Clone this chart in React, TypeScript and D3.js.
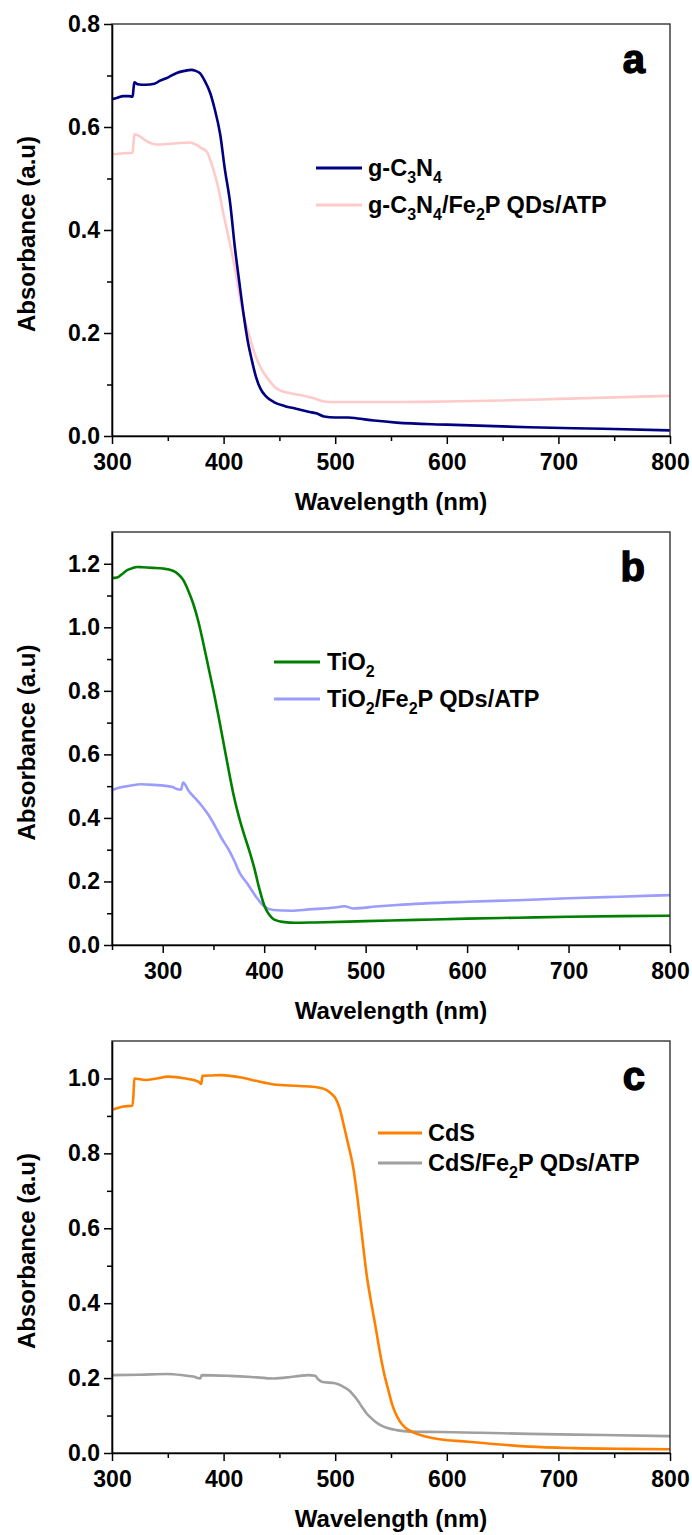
import React, { useEffect, useRef } from "react";
import * as d3 from "d3";

type Pt = [number, number];

// ---------- Panel a ----------
const gC3N4: Pt[] = [
  [300, 0.654], [305, 0.657], [310, 0.66], [315, 0.66], [318.5, 0.659], [319.3, 0.675], [320, 0.687],
  [323, 0.683], [330, 0.682], [338, 0.684], [343, 0.69], [350, 0.696], [358, 0.705], [365, 0.709],
  [371, 0.711], [375, 0.709], [379, 0.704], [383, 0.69], [388, 0.666], [392, 0.635], [397, 0.585],
  [401, 0.52], [406, 0.45], [410, 0.368], [414, 0.3], [418, 0.235], [422, 0.18], [425, 0.15],
  [429, 0.115], [433, 0.092], [438, 0.077], [445, 0.066], [455, 0.058], [465, 0.053], [476, 0.047],
  [483, 0.044], [490, 0.038], [500, 0.036], [512, 0.036], [520, 0.034], [535, 0.03], [555, 0.026],
  [600, 0.022], [674, 0.017], [740, 0.014], [800, 0.011],
];
const gC3N4Comp: Pt[] = [
  [300, 0.547], [310, 0.549], [318.5, 0.55], [319.3, 0.57], [320, 0.586], [325, 0.582], [330, 0.574],
  [340, 0.566], [350, 0.567], [360, 0.569], [370, 0.57], [375, 0.566], [380, 0.559], [385, 0.552],
  [390, 0.523], [395, 0.484], [400, 0.43], [404, 0.39], [407, 0.36], [411, 0.315], [415, 0.265],
  [419, 0.225], [423, 0.195], [426, 0.172], [430, 0.148], [434, 0.13], [440, 0.11], [449, 0.09],
  [460, 0.083], [470, 0.079], [480, 0.074], [488, 0.068], [495, 0.066], [520, 0.066], [560, 0.066],
  [600, 0.067], [650, 0.069], [700, 0.072], [750, 0.075], [800, 0.078],
];

// ---------- Panel b ----------
const tio2: Pt[] = [
  [250, 1.155], [255, 1.157], [260, 1.168], [265, 1.18], [270, 1.186], [275, 1.19], [280, 1.189],
  [290, 1.187], [300, 1.185], [310, 1.178], [315, 1.168], [320, 1.15], [325, 1.117], [330, 1.075],
  [335, 1.02], [340, 0.95], [345, 0.875], [350, 0.8], [355, 0.72], [360, 0.635], [365, 0.55],
  [370, 0.47], [375, 0.405], [380, 0.35], [385, 0.3], [390, 0.245], [395, 0.18], [400, 0.125],
  [405, 0.095], [410, 0.08], [420, 0.072], [430, 0.07], [450, 0.071], [500, 0.075], [550, 0.079],
  [600, 0.083], [650, 0.086], [700, 0.089], [750, 0.091], [800, 0.092],
];
const tio2Comp: Pt[] = [
  [250, 0.488], [260, 0.497], [270, 0.503], [278, 0.506], [291, 0.504], [309, 0.498], [315, 0.49],
  [318, 0.489], [320, 0.511], [326, 0.483], [332, 0.462], [339, 0.436], [345, 0.41], [352, 0.372],
  [358, 0.336], [365, 0.3], [371, 0.262], [376, 0.226], [383, 0.195], [392, 0.152], [400, 0.121],
  [409, 0.11], [427, 0.108], [444, 0.112], [470, 0.118], [479, 0.122], [488, 0.115], [510, 0.121],
  [531, 0.126], [600, 0.136], [650, 0.141], [700, 0.147], [750, 0.152], [800, 0.157],
];

// ---------- Panel c ----------
const cds: Pt[] = [
  [300, 0.916], [305, 0.921], [310, 0.925], [318.3, 0.927], [319.3, 0.96], [320, 1.0], [330, 0.996],
  [340, 1.0], [350, 1.005], [366, 1.0], [377.7, 0.991], [380, 0.985], [381, 1.007], [390, 1.008],
  [397.5, 1.009], [417, 1.002], [430, 0.993], [445, 0.984], [468.5, 0.98], [484.5, 0.976],
  [492.4, 0.969], [497, 0.958], [500.3, 0.947], [504, 0.92], [508, 0.871], [512, 0.82], [516, 0.765],
  [520, 0.68], [524, 0.58], [528, 0.48], [531.8, 0.409], [536, 0.34], [539.7, 0.275], [544, 0.21],
  [547.6, 0.168], [551, 0.13], [555.5, 0.097], [560, 0.076], [563.5, 0.066], [571.4, 0.053],
  [580, 0.045], [595, 0.036], [615, 0.031], [635, 0.026], [674, 0.017], [714, 0.013], [760, 0.011],
  [800, 0.01],
];
const cdsComp: Pt[] = [
  [300, 0.208], [325, 0.209], [349.5, 0.211], [365, 0.207], [373, 0.204], [379, 0.199], [380.4, 0.208],
  [405, 0.206], [425, 0.203], [444.6, 0.199], [460, 0.203], [468, 0.206], [476, 0.208], [482, 0.206],
  [485, 0.196], [488, 0.19], [500, 0.186], [506, 0.179], [512, 0.168], [516, 0.156], [520, 0.141],
  [524, 0.123], [528, 0.106], [532, 0.094], [535.7, 0.084], [541, 0.074], [547.6, 0.066],
  [555, 0.061], [567, 0.057], [595, 0.056], [630, 0.054], [674, 0.051], [740, 0.048], [800, 0.045],
];

// ---------- ticks ----------
const xTicksMajor = [300, 400, 500, 600, 700, 800];
const xTicksMinorA = [350, 450, 550, 650, 750];
const xTicksMinorB = [250, 350, 450, 550, 650, 750];
const yTicksMajorA = [0, 0.2, 0.4, 0.6, 0.8];
const yTicksMinorA = [0.1, 0.3, 0.5, 0.7];
const yTicksMajorB = [0, 0.2, 0.4, 0.6, 0.8, 1.0, 1.2];
const yTicksMinorB = [0.1, 0.3, 0.5, 0.7, 0.9, 1.1];
const yTicksMajorC = [0, 0.2, 0.4, 0.6, 0.8, 1.0];
const yTicksMinorC = [0.1, 0.3, 0.5, 0.7, 0.9];

// legend labels: [text, isSubscript]
const labelG: [string, boolean][] = [["g-C", false], ["3", true], ["N", false], ["4", true]];
const labelGComp: [string, boolean][] = [
  ["g-C", false], ["3", true], ["N", false], ["4", true], ["/Fe", false], ["2", true], ["P QDs/ATP", false],
];
const labelT: [string, boolean][] = [["TiO", false], ["2", true]];
const labelTComp: [string, boolean][] = [
  ["TiO", false], ["2", true], ["/Fe", false], ["2", true], ["P QDs/ATP", false],
];
const labelC: [string, boolean][] = [["CdS", false]];
const labelCComp: [string, boolean][] = [["CdS/Fe", false], ["2", true], ["P QDs/ATP", false]];

const FONT = "'Liberation Sans', Arial, Helvetica, sans-serif";
const X0 = 112;
const X1 = 670;

interface Series { data: Pt[]; color: string; label: [string, boolean][] }
interface Panel {
  top: number; bottom: number; xDomain: [number, number]; yDomain: [number, number];
  xMinor: number[]; yMajor: number[]; yMinor: number[]; letter: string;
  legend: { lx1: number; lx2: number; tx: number; y: number; gap: number };
  series: Series[];
}

const panels: Panel[] = [
  {
    top: 24, bottom: 436, xDomain: [300, 800], yDomain: [0, 0.8], xMinor: xTicksMinorA,
    yMajor: yTicksMajorA, yMinor: yTicksMinorA, letter: "a",
    legend: { lx1: 316, lx2: 362, tx: 368, y: 168, gap: 37 },
    series: [
      { data: gC3N4Comp, color: "#FFCACA", label: labelGComp },
      { data: gC3N4, color: "#000080", label: labelG },
    ],
  },
  {
    top: 532, bottom: 945, xDomain: [250, 800], yDomain: [0, 1.3], xMinor: xTicksMinorB,
    yMajor: yTicksMajorB, yMinor: yTicksMinorB, letter: "b",
    legend: { lx1: 274, lx2: 320, tx: 327, y: 662, gap: 37 },
    series: [
      { data: tio2Comp, color: "#9C9CFF", label: labelTComp },
      { data: tio2, color: "#008000", label: labelT },
    ],
  },
  {
    top: 1041, bottom: 1453, xDomain: [300, 800], yDomain: [0, 1.1], xMinor: xTicksMinorA,
    yMajor: yTicksMajorC, yMinor: yTicksMinorC, letter: "c",
    legend: { lx1: 378, lx2: 422, tx: 428, y: 1133, gap: 30 },
    series: [
      { data: cdsComp, color: "#A0A0A0", label: labelCComp },
      { data: cds, color: "#FF8000", label: labelC },
    ],
  },
];

export default function App() {
  const ref = useRef<SVGSVGElement | null>(null);

  useEffect(() => {
    const svg = d3.select(ref.current);
    svg.selectAll("*").remove();
    const fmt = d3.format(".1f");

    panels.forEach((p) => {
      const x = d3.scaleLinear().domain(p.xDomain).range([X0, X1]);
      const y = d3.scaleLinear().domain(p.yDomain).range([p.bottom, p.top]);
      const g = svg.append("g");

      // curves
      const line = d3.line<Pt>().x((d) => x(d[0])).y((d) => y(d[1])).curve(d3.curveMonotoneX);
      p.series.forEach((s) => {
        g.append("path").datum(s.data).attr("d", line).attr("fill", "none")
          .attr("stroke", s.color).attr("stroke-width", 2.6).attr("stroke-linejoin", "round");
      });

      // frame
      g.append("rect").attr("x", X0).attr("y", p.top).attr("width", X1 - X0)
        .attr("height", p.bottom - p.top).attr("fill", "none").attr("stroke", "#333").attr("stroke-width", 1.4);

      // x axis
      const xa = g.append("g").attr("transform", `translate(0,${p.bottom})`)
        .call(d3.axisBottom(x).tickValues(xTicksMajor).tickSize(8).tickSizeOuter(0).tickFormat(d3.format("d")));
      xa.select(".domain").attr("stroke", "#000").attr("stroke-width", 1.6);
      xa.selectAll(".tick line").attr("stroke", "#000").attr("stroke-width", 1.5);
      xa.selectAll(".tick text").attr("y", 34).attr("dy", 0).attr("font-size", 23)
        .attr("font-weight", "bold").attr("font-family", FONT).attr("fill", "#000");
      const xm = g.append("g").attr("transform", `translate(0,${p.bottom})`)
        .call(d3.axisBottom(x).tickValues(p.xMinor).tickSize(5).tickSizeOuter(0).tickFormat(() => ""));
      xm.select(".domain").remove();
      xm.selectAll(".tick line").attr("stroke", "#000").attr("stroke-width", 1.5);

      // y axis
      const ya = g.append("g").attr("transform", `translate(${X0},0)`)
        .call(d3.axisLeft(y).tickValues(p.yMajor).tickSize(8).tickSizeOuter(0).tickPadding(4)
          .tickFormat((d) => fmt(d as number)));
      ya.select(".domain").attr("stroke", "#000").attr("stroke-width", 1.6);
      ya.selectAll(".tick line").attr("stroke", "#000").attr("stroke-width", 1.5);
      ya.selectAll(".tick text").attr("font-size", 23).attr("font-weight", "bold")
        .attr("font-family", FONT).attr("fill", "#000");
      const ym = g.append("g").attr("transform", `translate(${X0},0)`)
        .call(d3.axisLeft(y).tickValues(p.yMinor).tickSize(5).tickSizeOuter(0).tickFormat(() => ""));
      ym.select(".domain").remove();
      ym.selectAll(".tick line").attr("stroke", "#000").attr("stroke-width", 1.5);

      // axis titles
      g.append("text").attr("x", (X0 + X1) / 2).attr("y", p.bottom + 74).attr("text-anchor", "middle")
        .attr("font-size", 24).attr("font-weight", "bold").attr("font-family", FONT).text("Wavelength (nm)");
      g.append("text").attr("transform", `translate(35,${(p.top + p.bottom) / 2 + 4}) rotate(-90)`)
        .attr("text-anchor", "middle").attr("font-size", 24).attr("font-weight", "bold")
        .attr("font-family", FONT).text("Absorbance (a.u)");

      // panel letter
      g.append("text").attr("x", 645).attr("y", p.top + 49).attr("text-anchor", "end")
        .attr("font-size", 40).attr("font-weight", "bold").attr("font-family", FONT)
        .attr("stroke", "#000").attr("stroke-width", 1.4).text(p.letter);

      // legend (main series first)
      const ordered = [...p.series].reverse();
      ordered.forEach((s, i) => {
        const ly = p.legend.y + i * p.legend.gap;
        g.append("line").attr("x1", p.legend.lx1).attr("x2", p.legend.lx2).attr("y1", ly).attr("y2", ly)
          .attr("stroke", s.color).attr("stroke-width", 2.8);
        const t = g.append("text").attr("x", p.legend.tx).attr("y", ly + 8).attr("font-size", 23.5)
          .attr("font-weight", "bold").attr("font-family", FONT);
        let shifted = false;
        s.label.forEach(([txt, sub]) => {
          const ts = t.append("tspan").text(txt);
          if (sub && !shifted) { ts.attr("dy", 7).attr("font-size", 16); shifted = true; }
          else if (sub) { ts.attr("font-size", 16); }
          else if (!sub && shifted) { ts.attr("dy", -7); shifted = false; }
        });
      });
    });
  }, []);

  return (
    <svg ref={ref} width={692} height={1535}
      style={{ position: "absolute", left: 0, top: 0, background: "#fff" }} />
  );
}
